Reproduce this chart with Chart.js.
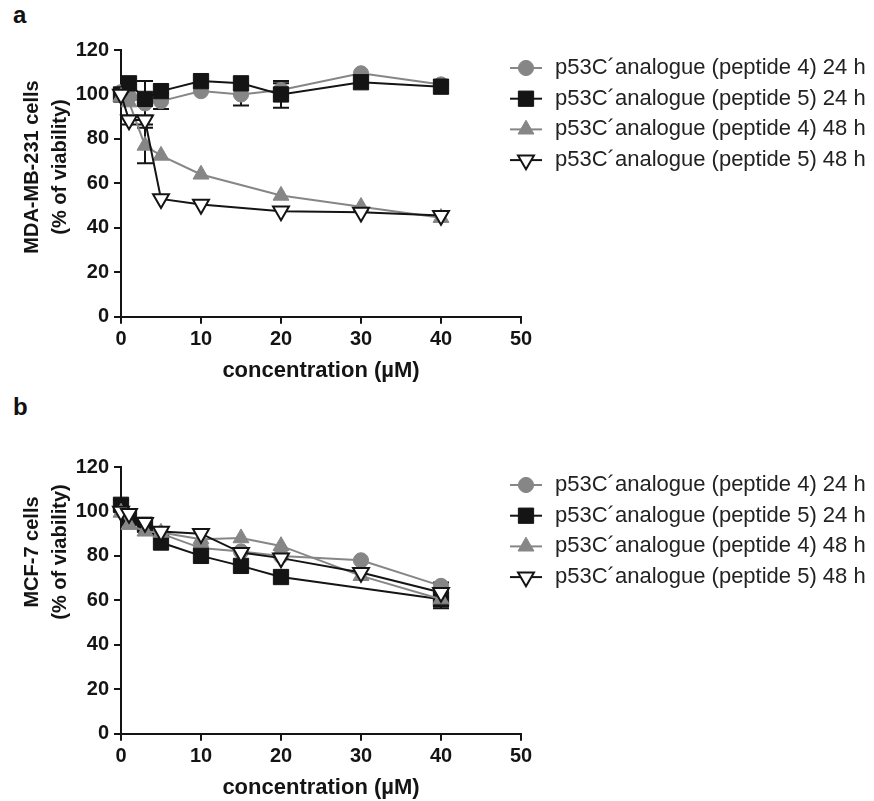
<!DOCTYPE html>
<html>
<head>
<meta charset="utf-8">
<script src="https://cdn.jsdelivr.net/npm/chart.js@4.4.1/dist/chart.umd.min.js"></script>
<style>
  html, body { margin: 0; padding: 0; background: #fff; }
  body { width: 874px; height: 801px; position: relative; overflow: hidden;
         font-family: "Liberation Sans", Arial, Helvetica, sans-serif; }
  .panel { position: absolute; left: 0; width: 874px; height: 384px; }
  .tag { position: absolute; left: 13px; font-weight: bold; font-size: 24px; line-height: 24px; color: #111; }
</style>
</head>
<body>
<div class="tag" style="top:3px">a</div>
<div class="panel" style="top:0"><canvas id="chartA" width="874" height="384"></canvas></div>
<div class="tag" style="top:395px">b</div>
<div class="panel" style="top:417px"><canvas id="chartB" width="874" height="384"></canvas></div>

<script>
var concentrations = [0, 1, 3, 5, 10, 15, 20, 30, 40];
var xTickValues = [0, 10, 20, 30, 40, 50];
var yTickValues = [0, 20, 40, 60, 80, 100, 120];
var seriesLabels = [
  'p53C\u00B4analogue (peptide 4) 24 h',
  'p53C\u00B4analogue (peptide 5) 24 h',
  'p53C\u00B4analogue (peptide 4) 48 h',
  'p53C\u00B4analogue (peptide 5) 48 h'
];

// MDA-MB-231 viability (%), null = not measured
var mdaPep4h24 = [101, 99, 96, 97, 101.5, 100, 102, 109.5, 104.5];
var mdaPep5h24 = [100, 105, 98, 101.5, 106, 105, 100, 105.5, 103.5];
var mdaPep4h48 = [99, 96.5, 77, 72.5, 64, null, 54.5, 49.5, 44.5];
var mdaPep5h48 = [100, 88.5, 88.5, 53, 50.5, null, 47.5, 47, 45.5];
var mdaErr4h24 = [0, 0, 0, 3.5, 0, 5, 3, 0, 0];
var mdaErr5h24 = [0, 0, 8, 0, 0, 0, 6, 0, 0];
var mdaErr4h48 = [0, 0, 8, 0, 0, 0, 0, 0, 0];
var mdaErr5h48 = [0, 2, 2, 0, 0, 0, 0, 0, 0];

// MCF-7 viability (%)
var mcfPep4h24 = [101, 96, 93, 90, 83.5, 82, 80, 78, 66.5];
var mcfPep5h24 = [103, 97, 94, 86, 80, 75.5, 70.5, null, 60.5];
var mcfPep4h48 = [99.5, 94, 91, 90.5, 87.5, 88, 84.5, 71, 60.5];
var mcfPep5h48 = [100, 99, 95, 91, 90, 81.5, 79, 72.5, 63.5];
var mcfErr4h24 = [0, 0, 0, 0, 0, 0, 0, 0, 1.5];
var mcfErr5h24 = [2, 0, 0, 0, 0, 0, 0, 0, 4];
var mcfErr4h48 = [0, 0, 0, 0, 0, 0, 0, 0, 3];
var mcfErr5h48 = [0, 0, 0, 0, 0, 0, 0, 0, 2];

var GREY = '#868686';
var INK = '#141414';
var FONT = '"Liberation Sans", Arial, Helvetica, sans-serif';

Chart.defaults.font.family = FONT;
Chart.defaults.color = INK;

// marker look per series: circle, square, triangle, open inverted triangle
var markerStyles = [
  { color: GREY, pointStyle: 'circle', pointRadius: 7.6, fill: GREY, edge: GREY, edgeWidth: 1, rotation: 0, order: 4 },
  { color: INK, pointStyle: 'rect', pointRadius: 10.8, fill: INK, edge: INK, edgeWidth: 1, rotation: 0, order: 3 },
  { color: GREY, pointStyle: 'triangle', pointRadius: 9.2, fill: GREY, edge: GREY, edgeWidth: 1, rotation: 0, order: 2 },
  { color: INK, pointStyle: 'triangle', pointRadius: 9.2, fill: '#ffffff', edge: INK, edgeWidth: 2, rotation: 180, order: 1 }
];

function toPoints(values) {
  return concentrations.map(function(c, i) { return { x: c, y: values[i] }; });
}

function drawMarker(ctx, style, x, y) {
  var r = style.pointRadius;
  ctx.save();
  ctx.translate(x, y);
  ctx.rotate(style.rotation * Math.PI / 180);
  ctx.beginPath();
  if (style.pointStyle === 'circle') {
    ctx.arc(0, 0, r, 0, Math.PI * 2);
  } else if (style.pointStyle === 'rect') {
    var s = r * Math.SQRT1_2;
    ctx.rect(-s, -s, 2 * s, 2 * s);
  } else {
    for (var k = 0; k < 3; k++) {
      var a = k * 2 * Math.PI / 3;
      if (k === 0) ctx.moveTo(Math.sin(a) * r, -Math.cos(a) * r);
      else ctx.lineTo(Math.sin(a) * r, -Math.cos(a) * r);
    }
    ctx.closePath();
  }
  ctx.fillStyle = style.fill;
  ctx.fill();
  ctx.lineWidth = style.edgeWidth;
  ctx.strokeStyle = style.edge;
  ctx.stroke();
  ctx.restore();
}

// vertical SD bars with caps, drawn under the markers
var errorBars = {
  id: 'errorBars',
  beforeDatasetsDraw: function(chart) {
    var ctx = chart.ctx, xs = chart.scales.x, ys = chart.scales.y;
    ctx.save();
    ctx.strokeStyle = INK;
    ctx.lineWidth = 2;
    chart.data.datasets.forEach(function(ds) {
      if (!ds.errors) return;
      ds.data.forEach(function(p, j) {
        var e = ds.errors[j];
        if (p.y === null || !e) return;
        var px = xs.getPixelForValue(p.x);
        var top = ys.getPixelForValue(p.y + e);
        var bot = ys.getPixelForValue(p.y - e);
        ctx.beginPath();
        ctx.moveTo(px, top); ctx.lineTo(px, bot);
        ctx.moveTo(px - 8, top); ctx.lineTo(px + 8, top);
        ctx.moveTo(px - 8, bot); ctx.lineTo(px + 8, bot);
        ctx.stroke();
      });
    });
    ctx.restore();
  }
};

// legend to the right of the plot: line + marker + label
var sideLegend = {
  id: 'sideLegend',
  afterDraw: function(chart, args, opts) {
    var ctx = chart.ctx, top = chart.chartArea.top;
    chart.data.datasets.forEach(function(ds, i) {
      var st = markerStyles[i];
      var y = top + opts.firstRow + i * opts.rowGap;
      ctx.save();
      ctx.strokeStyle = st.color;
      ctx.lineWidth = 2;
      ctx.beginPath();
      ctx.moveTo(opts.lineFrom, y);
      ctx.lineTo(opts.lineTo, y);
      ctx.stroke();
      drawMarker(ctx, st, (opts.lineFrom + opts.lineTo) / 2, y);
      ctx.fillStyle = '#222';
      ctx.font = opts.fontSize + 'px ' + FONT;
      ctx.textAlign = 'left';
      ctx.textBaseline = 'middle';
      ctx.fillText(ds.label, opts.textX, y);
      ctx.restore();
    });
  }
};

// two-line rotated y-axis title
var sideTitle = {
  id: 'sideTitle',
  afterDraw: function(chart, args, opts) {
    var ctx = chart.ctx;
    ctx.save();
    ctx.translate(opts.x, opts.y);
    ctx.rotate(-Math.PI / 2);
    ctx.font = 'bold ' + opts.fontSize + 'px ' + FONT;
    ctx.fillStyle = INK;
    ctx.textAlign = 'center';
    ctx.textBaseline = 'middle';
    opts.lines.forEach(function(t, k) { ctx.fillText(t, 0, k * opts.lineGap); });
    ctx.restore();
  }
};

function makeChart(id, values, errors, titleLines, titleY) {
  var datasets = values.map(function(v, i) {
    var st = markerStyles[i];
    return {
      label: seriesLabels[i],
      data: toPoints(v),
      errors: errors[i],
      borderColor: st.color,
      borderWidth: 2,
      pointStyle: st.pointStyle,
      pointRadius: st.pointRadius,
      pointHoverRadius: st.pointRadius,
      pointRotation: st.rotation,
      pointBackgroundColor: st.fill,
      pointBorderColor: st.edge,
      pointBorderWidth: st.edgeWidth,
      spanGaps: true,
      tension: 0,
      clip: false,
      order: st.order
    };
  });

  var axisGrid = { drawOnChartArea: false, drawTicks: true, tickLength: 7, color: INK, lineWidth: 2 };
  var axisBorder = { display: true, color: INK, width: 2 };
  var tickFont = { size: 20, weight: 'bold' };

  return new Chart(document.getElementById(id), {
    type: 'line',
    data: { datasets: datasets },
    options: {
      responsive: false,
      animation: false,
      events: [],
      layout: { padding: { left: 0, top: 50, right: 353, bottom: 0.3 } },
      plugins: {
        legend: { display: false },
        tooltip: { enabled: false },
        sideLegend: { firstRow: 18, rowGap: 30.7, lineFrom: 510, lineTo: 542, textX: 555, fontSize: 22 },
        sideTitle: { lines: titleLines, x: 32, y: titleY, lineGap: 28, fontSize: 20 }
      },
      scales: {
        x: {
          type: 'linear',
          min: xTickValues[0],
          max: xTickValues[xTickValues.length - 1],
          afterBuildTicks: function(s) { s.ticks = xTickValues.map(function(v) { return { value: v }; }); },
          ticks: { font: tickFont, color: INK, padding: 4, maxRotation: 0 },
          grid: axisGrid,
          border: axisBorder,
          title: { display: true, text: 'concentration (\u00B5M)', color: INK,
                   font: { size: 22, weight: 'bold' }, padding: { top: 0, bottom: 0 } },
          afterFit: function(s) { s.height = 67; }
        },
        y: {
          min: yTickValues[0],
          max: yTickValues[yTickValues.length - 1],
          afterBuildTicks: function(s) { s.ticks = yTickValues.map(function(v) { return { value: v }; }); },
          ticks: { font: tickFont, color: INK, padding: 5 },
          grid: axisGrid,
          border: axisBorder,
          afterFit: function(s) { s.width = 121; }
        }
      }
    },
    plugins: [errorBars, sideLegend, sideTitle]
  });
}

makeChart('chartA',
  [mdaPep4h24, mdaPep5h24, mdaPep4h48, mdaPep5h48],
  [mdaErr4h24, mdaErr5h24, mdaErr4h48, mdaErr5h48],
  ['MDA-MB-231 cells', '(% of viability)'], 167);

makeChart('chartB',
  [mcfPep4h24, mcfPep5h24, mcfPep4h48, mcfPep5h48],
  [mcfErr4h24, mcfErr5h24, mcfErr4h48, mcfErr5h48],
  ['MCF-7 cells', '(% of viability)'], 135);
</script>
</body>
</html>
